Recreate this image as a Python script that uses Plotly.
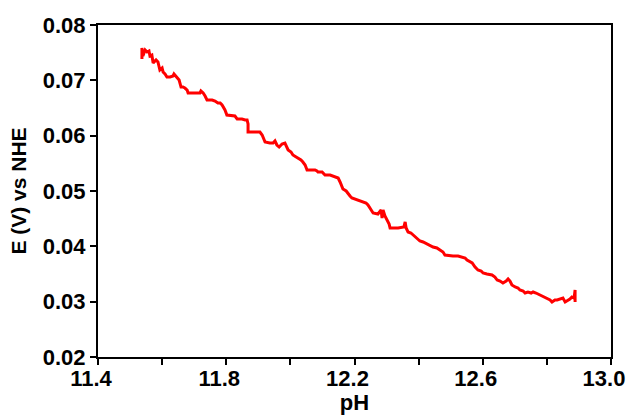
import plotly.graph_objects as go

ph = [11.537, 11.537, 11.540, 11.547, 11.553, 11.559, 11.562, 11.568, 11.572, 11.581,
      11.587, 11.590, 11.593, 11.600, 11.603, 11.609, 11.615, 11.625, 11.634, 11.637,
      11.643, 11.646, 11.653, 11.659, 11.665, 11.671, 11.678, 11.681, 11.703, 11.718,
      11.721, 11.728, 11.734, 11.740, 11.756, 11.765, 11.774, 11.781, 11.787, 11.796,
      11.802, 11.827, 11.834, 11.849, 11.859, 11.865, 11.868, 11.868, 11.890, 11.905,
      11.912, 11.915, 11.921, 11.936, 11.946, 11.952, 11.958, 11.965, 11.974, 11.983,
      11.990, 11.993, 12.002, 12.008, 12.018, 12.024, 12.033, 12.039, 12.046, 12.052,
      12.067, 12.077, 12.083, 12.086, 12.099, 12.108, 12.124, 12.139, 12.149, 12.155,
      12.161, 12.164, 12.174, 12.180, 12.186, 12.192, 12.211, 12.227, 12.236, 12.242,
      12.248, 12.255, 12.258, 12.273, 12.283, 12.286, 12.289, 12.295, 12.301, 12.308,
      12.311, 12.336, 12.354, 12.358, 12.361, 12.367, 12.376, 12.383, 12.389, 12.395,
      12.404, 12.414, 12.420, 12.436, 12.445, 12.457, 12.467, 12.476, 12.482, 12.498,
      12.507, 12.523, 12.535, 12.545, 12.551, 12.560, 12.567, 12.576, 12.585, 12.595,
      12.601, 12.613, 12.629, 12.638, 12.645, 12.654, 12.663, 12.673, 12.679, 12.685,
      12.691, 12.701, 12.710, 12.716, 12.726, 12.732, 12.741, 12.751, 12.757, 12.766,
      12.779, 12.788, 12.800, 12.810, 12.816, 12.825, 12.832, 12.841, 12.850, 12.857,
      12.863, 12.872, 12.878, 12.885, 12.888, 12.888]

e_volts = [0.07386, 0.07584, 0.07440, 0.07548, 0.07512, 0.07530, 0.07440, 0.07458, 0.07313, 0.07367,
           0.07331, 0.07259, 0.07187, 0.07223, 0.07151, 0.07114, 0.07060, 0.07060, 0.07078, 0.07114,
           0.07078, 0.07042, 0.07006, 0.06879, 0.06879, 0.06861, 0.06825, 0.06771, 0.06771, 0.06771,
           0.06807, 0.06771, 0.06717, 0.06645, 0.06645, 0.06626, 0.06590, 0.06590, 0.06554, 0.06464,
           0.06373, 0.06355, 0.06301, 0.06301, 0.06283, 0.06283, 0.06211, 0.06066, 0.06066, 0.06066,
           0.06012, 0.05976, 0.05885, 0.05867, 0.05867, 0.05904, 0.05831, 0.05795, 0.05849, 0.05867,
           0.05795, 0.05741, 0.05705, 0.05650, 0.05614, 0.05596, 0.05560, 0.05524, 0.05470, 0.05379,
           0.05379, 0.05379, 0.05361, 0.05343, 0.05343, 0.05289, 0.05289, 0.05253, 0.05235, 0.05163,
           0.05090, 0.05036, 0.05000, 0.04964, 0.04910, 0.04873, 0.04837, 0.04801, 0.04783, 0.04747,
           0.04693, 0.04620, 0.04602, 0.04584, 0.04657, 0.04512, 0.04657, 0.04548, 0.04476, 0.04403,
           0.04331, 0.04331, 0.04349, 0.04440, 0.04331, 0.04259, 0.04241, 0.04205, 0.04187, 0.04150,
           0.04096, 0.04078, 0.04060, 0.04024, 0.03988, 0.03970, 0.03934, 0.03897, 0.03843, 0.03825,
           0.03825, 0.03825, 0.03807, 0.03789, 0.03753, 0.03717, 0.03699, 0.03626, 0.03572, 0.03554,
           0.03518, 0.03500, 0.03482, 0.03446, 0.03391, 0.03373, 0.03337, 0.03373, 0.03410, 0.03373,
           0.03301, 0.03265, 0.03247, 0.03211, 0.03193, 0.03156, 0.03175, 0.03156, 0.03175, 0.03156,
           0.03120, 0.03102, 0.03066, 0.03030, 0.02994, 0.03030, 0.03030, 0.03048, 0.03066, 0.02994,
           0.03012, 0.03048, 0.03084, 0.03066, 0.03211, 0.02994]

x_tickvals = [11.4, 11.6, 11.8, 12.0, 12.2, 12.4, 12.6, 12.8, 13.0]
x_ticktext = ["11.4", "", "11.8", "", "12.2", "", "12.6", "", "13.0"]
y_tickvals = [0.02, 0.03, 0.04, 0.05, 0.06, 0.07, 0.08]
y_ticktext = ["0.02", "0.03", "0.04", "0.05", "0.06", "0.07", "0.08"]

font_family = "Liberation Sans, Arial, sans-serif"

fig = go.Figure()
fig.add_trace(go.Scatter(
    x=ph, y=e_volts, mode="lines",
    line=dict(color="#ff0000", width=3),
    showlegend=False,
))

axis_common = dict(
    showline=True, linecolor="black", linewidth=2, mirror=True,
    ticks="outside", ticklen=6, tickwidth=2, tickcolor="black",
    showgrid=False, zeroline=False, ticklabeloverflow="allow",
    automargin=False,
)

fig.update_layout(
    width=631, height=415,
    margin=dict(l=98, r=20, t=25, b=58),
    paper_bgcolor="white", plot_bgcolor="white",
    font=dict(family=font_family, color="black"),
    xaxis=dict(
        range=[11.4, 13.0], tickmode="array",
        tickvals=x_tickvals, ticktext=x_ticktext,
        ticklabelshift=-7, ticklabelstandoff=-5,
        tickfont=dict(family=font_family, size=22, color="black", weight="bold"),
        title=dict(text="pH", standoff=5,
                   font=dict(family=font_family, size=22, color="black", weight="bold")),
        **axis_common,
    ),
    yaxis=dict(
        range=[0.02, 0.08], tickmode="array",
        tickvals=y_tickvals, ticktext=y_ticktext,
        tickfont=dict(family=font_family, size=22, color="black", weight="bold"),
        title=dict(text="E (V) vs NHE", standoff=10,
                   font=dict(family=font_family, size=21, color="black", weight="bold")),
        **axis_common,
    ),
)

fig.write_html("out.html")
